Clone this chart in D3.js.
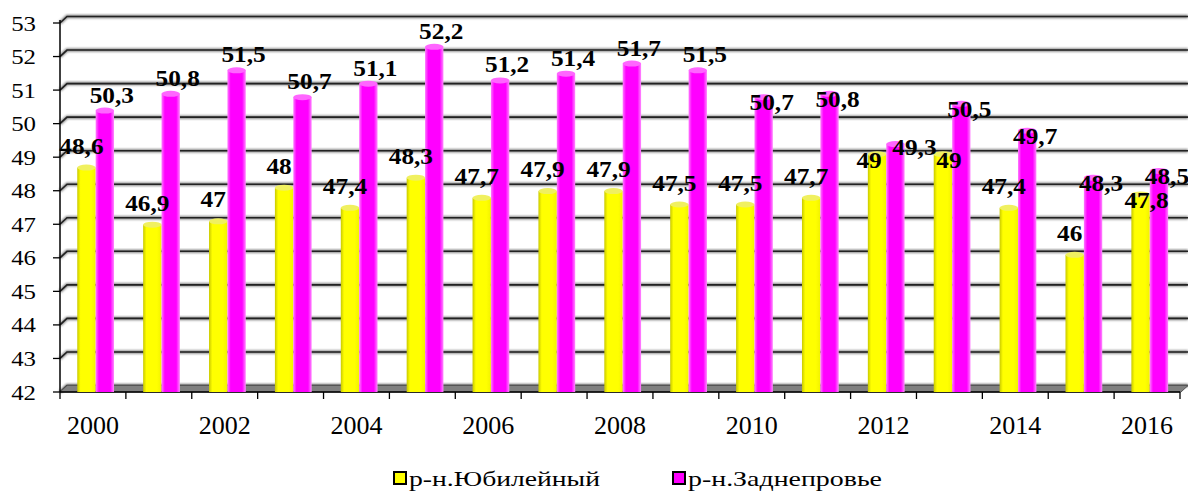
<!DOCTYPE html>
<html>
<head>
<meta charset="utf-8">
<script src="https://cdn.jsdelivr.net/npm/d3@7"></script>
<style>
  html, body { margin: 0; padding: 0; background: #fff; }
  svg { display: block; }
</style>
</head>
<body>
<svg id="chart" width="1188" height="493" font-family="'Liberation Serif', 'Times New Roman', 'DejaVu Serif', serif"></svg>
<script>
// ---- data ----
const years = ["2000","2001","2002","2003","2004","2005","2006","2007","2008","2009","2010","2011","2012","2013","2014","2015","2016"];
const seriesNames = ["р-н.Юбилейный", "р-н.Заднепровье"];
const yubileyny = [48.6, 46.9, 47, 48, 47.4, 48.3, 47.7, 47.9, 47.9, 47.5, 47.5, 47.7, 49, 49, 47.4, 46, 47.8];
const zadneprovye = [50.3, 50.8, 51.5, 50.7, 51.1, 52.2, 51.2, 51.4, 51.7, 51.5, 50.7, 50.8, 49.3, 50.5, 49.7, 48.3, 48.5];
const yTicks = [42, 43, 44, 45, 46, 47, 48, 49, 50, 51, 52, 53];
const xTickLabels = ["2000","2002","2004","2006","2008","2010","2012","2014","2016"];

const seriesValues = [yubileyny, zadneprovye];
const colors = ["#ffff00", "#ff00ff"];

// ---- layout ----
const svg = d3.select("#chart");
const plotLeft = 60, plotRight = 1180, plotTop = 23, plotBottom = 392;
const depthX = 7, depthY = -6.5;

const x = d3.scaleBand().domain(years).range([plotLeft, plotRight]).padding(0);
const bw = x.bandwidth();
const xs = d3.scaleBand().domain([0, 1]).range([bw * 0.262, bw * 0.82]).padding(0);
const y = d3.scaleLinear().domain([42, 53]).range([plotBottom, plotTop]);

const defs = svg.append("defs");
const blur = defs.append("filter").attr("id", "soft").attr("x", "-5%").attr("y", "-50%").attr("width", "110%").attr("height", "200%");
blur.append("feGaussianBlur").attr("stdDeviation", 1.2);

// gradients for cylinder bars
const gradStops = [
  [["0%", "#c9c900"], ["18%", "#ffff00"], ["75%", "#ffff00"], ["100%", "#f2f200"]],
  [["0%", "#ff7cff"], ["18%", "#ff00ff"], ["80%", "#ff00ff"], ["100%", "#ff8aff"]]
];
gradStops.forEach((stops, i) => {
  const g = defs.append("linearGradient").attr("id", "g" + i).attr("x1", "0").attr("x2", "1").attr("y1", "0").attr("y2", "0");
  stops.forEach(s => g.append("stop").attr("offset", s[0]).attr("stop-color", s[1]));
});

// ---- gridlines (with perspective on the left wall) ----
const grid = svg.append("g");
yTicks.forEach(t => {
  const yy = y(t);
  const d = `M${plotLeft},${yy} L${plotLeft + depthX},${yy + depthY} L1188,${yy + depthY}`;
  grid.append("path").attr("d", d).attr("fill", "none").attr("stroke", "#888").attr("stroke-width", 3.5).attr("filter", "url(#soft)");
  grid.append("path").attr("d", d).attr("fill", "none").attr("stroke", "#222").attr("stroke-width", 1.6);
});

// floor
svg.append("path")
  .attr("d", `M${plotLeft},${plotBottom} L${plotLeft + depthX},${plotBottom + depthY} L1188,${plotBottom + depthY} L${plotRight + 1},${plotBottom} Z`)
  .attr("fill", "#808080").attr("stroke", "#555").attr("stroke-width", 1);

// ---- y axis ----
svg.append("line").attr("x1", plotLeft).attr("x2", plotLeft).attr("y1", plotTop - 3).attr("y2", plotBottom).attr("stroke", "#000").attr("stroke-width", 1.5);
const yAxisG = svg.append("g");
yTicks.forEach(t => {
  yAxisG.append("line").attr("x1", plotLeft - 7).attr("x2", plotLeft).attr("y1", y(t)).attr("y2", y(t)).attr("stroke", "#000").attr("stroke-width", 1.3);
  yAxisG.append("text")
    .attr("transform", `translate(36,${y(t) + 7.5}) scale(1.13,1)`)
    .attr("text-anchor", "end").attr("font-size", 22).text(t);
});

// ---- x axis ----
svg.append("line").attr("x1", plotLeft).attr("x2", plotRight).attr("y1", plotBottom).attr("y2", plotBottom).attr("stroke", "#000").attr("stroke-width", 1.3);
const xTickPos = years.map(yr => x(yr)).concat([plotRight]);
xTickPos.forEach(px => {
  svg.append("line").attr("x1", px).attr("x2", px).attr("y1", plotBottom).attr("y2", plotBottom + 7).attr("stroke", "#000").attr("stroke-width", 1.3);
});
xTickLabels.forEach(lbl => {
  svg.append("text")
    .attr("x", x(lbl) + bw / 2).attr("y", 434)
    .attr("text-anchor", "middle").attr("font-size", 26).text(lbl);
});

// ---- bars ----
const barsG = svg.append("g");
seriesValues.forEach((vals, si) => {
  vals.forEach((v, i) => {
    const bx = x(years[i]) + xs(si);
    const w = xs.bandwidth();
    const yt = y(v) - 3;
    barsG.append("rect").attr("x", bx).attr("y", yt).attr("width", w).attr("height", plotBottom - yt)
      .attr("fill", `url(#g${si})`);
    barsG.append("ellipse").attr("cx", bx + w / 2).attr("cy", yt).attr("rx", w / 2).attr("ry", 3)
      .attr("fill", si === 0 ? "#f0f060" : "#ff66ff");
  });
});

// ---- data labels ----
const fmt = v => String(v).replace(".", ",");
const labelsG = svg.append("g");
const placed = [];
const besideFrom = years.indexOf("2010"); // labels of the right part sit beside the bar tops
function boxOf(cx, base, txt) {
  const w = (txt.length - (txt.includes(",") ? 0.5 : 0)) * 23 * 0.5 * 1.1;
  return { x0: cx - w / 2, x1: cx + w / 2, y0: base - 16, y1: base };
}
function firstHit(b) {
  return placed.find(p => b.x0 < p.x1 && b.x1 > p.x0 && b.y0 < p.y1 && b.y1 > p.y0);
}
years.forEach((yr, i) => {
  const cy = x(yr) + xs(0) + xs.bandwidth() / 2;
  const cm = x(yr) + xs(1) + xs.bandwidth() / 2;
  const vy = yubileyny[i], vm = zadneprovye[i];
  let yPos = [cy - 5, y(vy) - 17];
  let mPos = i < besideFrom ? [cm + 7, y(vm) - 11] : [cm + 8, y(vm) + 10];
  if (Math.abs(vm - vy) < 0.7) {            // near-equal bars: both labels beside the tops
    yPos = [cy - 8, y(vy) + 11];
    mPos = [cm + 19, y(vm) + 8];
  } else {
    if (firstHit(boxOf(yPos[0], yPos[1], fmt(vy)))) yPos = [cy + 6, y(vy) + 11];
    const yb = boxOf(yPos[0], yPos[1], fmt(vy));
    const mb = boxOf(mPos[0], mPos[1], fmt(vm));
    if (mb.x0 < yb.x1 && mb.x1 > yb.x0 && mb.y0 < yb.y1 && mb.y1 > yb.y0) mPos = [mPos[0], yb.y0 - 2];
  }
  [[yPos, vy], [mPos, vm]].forEach(([p, v]) => {
    placed.push(boxOf(p[0], p[1], fmt(v)));
    labelsG.append("text")
      .attr("transform", `translate(${p[0]},${p[1]}) scale(1.1,1)`)
      .attr("text-anchor", "middle").attr("font-size", 23).attr("font-weight", "bold")
      .text(fmt(v));
  });
});

// ---- legend ----
const legendX = [394, 673];
const legendTextWidth = [191, 194];
seriesNames.forEach((name, si) => {
  const lg = svg.append("g");
  lg.append("rect").attr("x", legendX[si]).attr("y", 472).attr("width", 12).attr("height", 12)
    .attr("fill", colors[si]).attr("stroke", "#000").attr("stroke-width", 2);
  lg.append("text").attr("x", legendX[si] + 15).attr("y", 486).attr("font-size", 21)
    .attr("textLength", legendTextWidth[si]).attr("lengthAdjust", "spacingAndGlyphs").text(name);
});
</script>
</body>
</html>
